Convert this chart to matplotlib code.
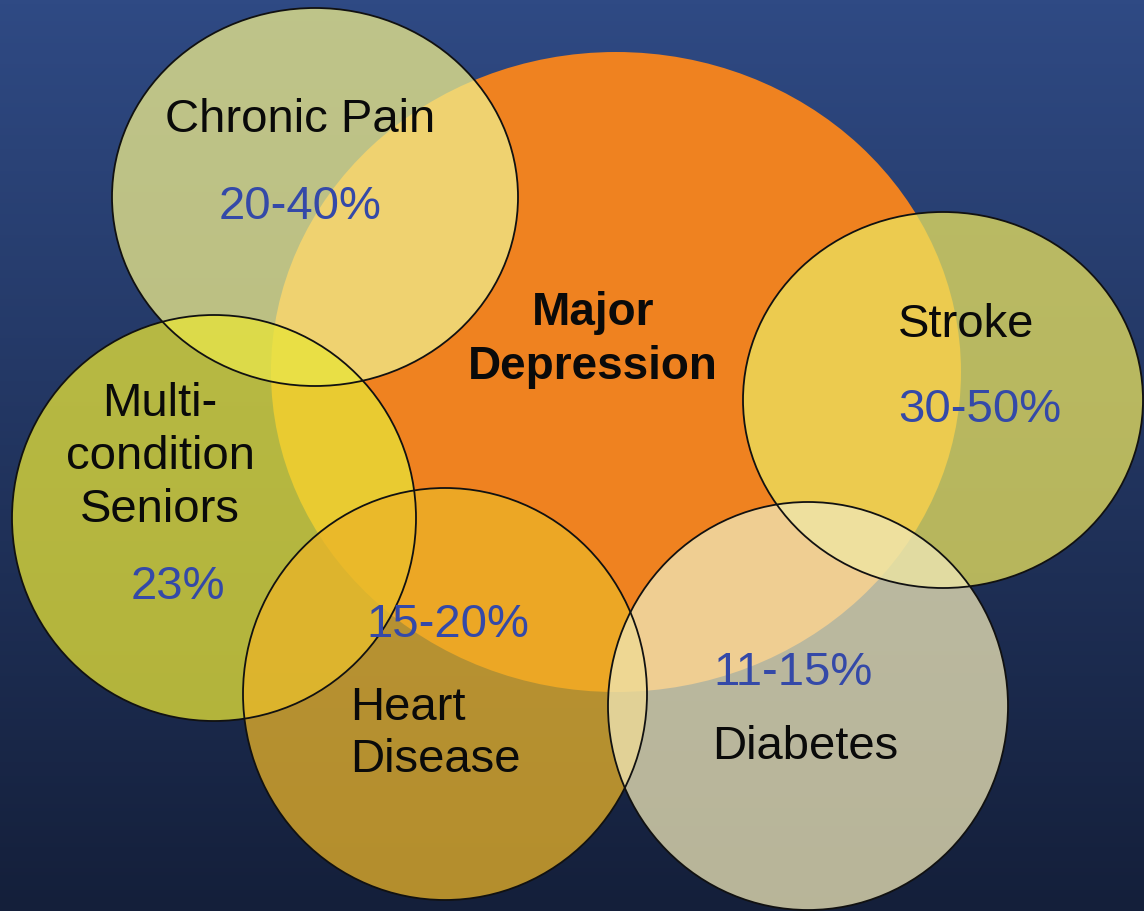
import numpy as np
import matplotlib
matplotlib.use("Agg")
import matplotlib.pyplot as plt
from matplotlib.patches import Ellipse

# dane
center_label = "Major\nDepression"
labels = ["Chronic Pain", "Stroke", "Multi-\ncondition\nSeniors", "Heart\nDisease", "Diabetes"]
rates = ["20-40%", "30-50%", "23%", "15-20%", "11-15%"]

# układ (piksele obrazu): środek x, y, szerokość, wysokość
circles = [
    (315, 197, 406, 378),
    (943, 400, 400, 376),
    (214, 518, 404, 406),
    (445, 694, 404, 412),
    (808, 706, 400, 408),
]
fills = ["#f0ee8c", "#ebe45f", "#e8e437", "#ebb428", "#f0e8b9"]
label_pos = [(300, 120), (966, 325), (160, 457), (350, 734), (805, 747)]
rate_pos = [(300, 207), (980, 410), (178, 587), (448, 625), (793, 673)]

W, H = 1144, 911
fig = plt.figure(figsize=(W / 100, H / 100), dpi=100)
ax = fig.add_axes([0, 0, 1, 1])
ax.set_xlim(0, W)
ax.set_ylim(H, 0)
ax.axis("off")

# tło - gradient
top = np.array([47, 74, 132]) / 255
bottom = np.array([20, 31, 58]) / 255
t = np.linspace(0, 1, 256)[:, None]
grad = top * (1 - t) + bottom * t
ax.imshow(np.repeat(grad[:, None, :], 2, axis=1), extent=[0, W, H, 0], aspect="auto", zorder=0)

# główna elipsa
ax.add_patch(Ellipse((616, 372), 690, 640, facecolor="#ef8220", edgecolor="none", zorder=1))

for (cx, cy, w, h), fc in zip(circles, fills):
    ax.add_patch(Ellipse((cx, cy), w, h, facecolor=fc, alpha=0.75, edgecolor="none", zorder=2))
    ax.add_patch(Ellipse((cx, cy), w, h, facecolor="none", edgecolor="#111111", lw=1.3, zorder=3))

font = "Liberation Sans"
ax.text(593, 340, center_label, ha="center", va="center", fontsize=33, fontweight="bold",
        family=font, linespacing=1.28, color="#0a0a0a", zorder=4)

for i, (lab, (x, y)) in enumerate(zip(labels, label_pos)):
    ha = "left" if i == 3 else "center"
    ax.text(x, y, lab, ha=ha, va="center", fontsize=34, family=font, color="#0a0a0a",
            linespacing=1.26, zorder=4)

for r, (x, y) in zip(rates, rate_pos):
    ax.text(x, y, r, ha="center", va="center", fontsize=34, family=font, color="#3449a8", zorder=4)

fig.savefig("out.png", dpi=100)
